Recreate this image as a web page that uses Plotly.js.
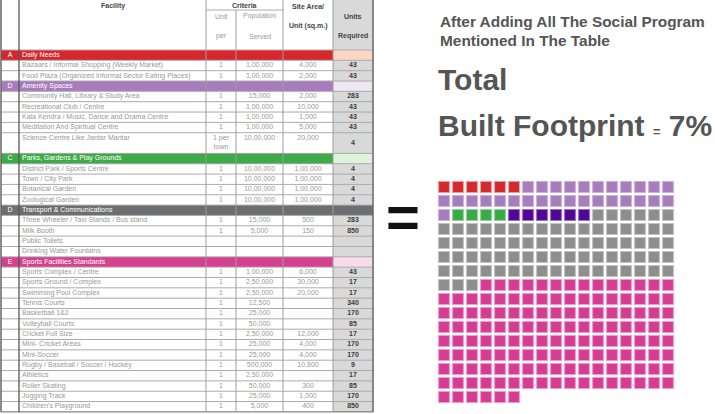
<!DOCTYPE html>
<html><head><meta charset="utf-8">
<script src="https://cdn.plot.ly/plotly-3.0.1.min.js"></script>
<style>html,body{margin:0;padding:0;background:#fff}#chart{width:715px;height:414px}</style>
</head><body><div id="chart"></div>
<script>
// ---------- DATA ----------
const rowLetter = ["A","","","D","","","","","","C","","","","","D","","","","","E","","","","","","","","","","","","","",""];
const rowSection = [0,-1,-1,1,-1,-1,-1,-1,-1,2,-1,-1,-1,-1,3,-1,-1,-1,-1,4,-1,-1,-1,-1,-1,-1,-1,-1,-1,-1,-1,-1,-1,-1];
const rowFacility = [
 "Daily Needs",
 "Bazaars / Informal Shopping (Weekly Market)",
 "Food Plaza (Organized Informal Sector Eating Places)",
 "Amenity Spaces",
 "Community Hall, Library & Study Area",
 "Recreational Club / Centre",
 "Kala Kendra / Music, Dance and Drama Centre",
 "Meditation And Spiritual Centre",
 "Science Centre Like Jantar Mantar",
 "Parks, Gardens & Play Grounds",
 "District Park / Sports Centre",
 "Town / City Park",
 "Botanical Garden",
 "Zoological Garden",
 "Transport & Communications",
 "Three Wheeler / Taxi Stands / Bus stand",
 "Milk Booth",
 "Public Toilets",
 "Drinking Water Fountains",
 "Sports Facilities Standards",
 "Sports Complex / Centre",
 "Sports Ground / Complex",
 "Swimming Pool Complex",
 "Tennis Courts",
 "Basketball 1&2",
 "Volleyball Courts",
 "Cricket Full Size",
 "Mini- Cricket Areas",
 "Mini-Soccer",
 "Rugby / Baseball / Soccer / Hockey",
 "Athletics",
 "Roller Skating",
 "Jogging Track",
 "Children's Playground"
];
const rowUnit = ["","1","1","","1","1","1","1","1 per<br>town","","1","1","1","1","","1","1","","","","1","1","1","1","1","1","1","1","1","1","1","1","1","1"];
const rowPopulation = ["","1,00,000","1,00,000","","15,000","1,00,000","1,00,000","1,00,000","10,00,000","","10,00,000","10,00,000","10,00,000","10,00,000","","15,000","5,000","","","","1,00,000","2,50,000","2,50,000","12,500","25,000","50,000","2,50,000","25,000","25,000","500,000","2,50,000","50,000","25,000","5,000"];
const rowSiteArea = ["","4,000","2,000","","2,000","10,000","1,000","5,000","20,000","","1,00,000","1,00,000","1,00,000","1,00,000","","500","150","","","","6,000","30,000","20,000","","","","12,000","4,000","4,000","10,800","","300","1,000","400"];
const rowUnitsRequired = ["","43","43","","283","43","43","43","4","","4","4","4","4","","283","850","","","","43","17","17","340","170","85","17","170","170","9","17","85","170","850"];
const rowSpan = [1,1,1,1,1,1,1,1,2,1,1,1,1,1,1,1,1,1,1,1,1,1,1,1,1,1,1,1,1,1,1,1,1,1];

const waffleGroups = ["Daily Needs","Amenity Spaces","Parks, Gardens & Play Grounds","Other Social Facilities","Transport & Communications","Sports Facilities"];
const waffleCounts = [6, 29, 4, 6, 77, 139];

// ---------- STYLE ----------
const FONT = "Liberation Sans, Arial, sans-serif";
const colEdges = [1, 19, 206, 236, 283, 333, 373];
const headerH = 50, topLineY = 10;
const rowH = 10.34;
const palette = ['#ffffff','#d9d9d9','#d7262c','#fbd6c3','#a77bbd','#eee6f3','#3eab49','#e0f1dc','#6d6e71','#6d6e71','#d6408f','#f9dcea'];
const sectionFill = [2,4,6,8,10];
const waffleFill = ['#d42a2e','#a77dbd','#3aaa47','#520498','#8e8e8e','#d63c93'];
const waffleLine = ['#ec9a9c','#cdb3dc','#92d29c','#9a72c6','#c4c4c4','#f09ccb'];

// ---------- TABLE GEOMETRY ----------
const yEdges = [0, headerH];
rowSpan.forEach(s => yEdges.push(yEdges[yEdges.length-1] + s*rowH));
const nRows = rowFacility.length;
const z = [];
z.push([0,0,0,0,0,1].map(v => v + 0.5));
for (let r = 0; r < nRows; r++) {
  const s = rowSection[r];
  if (s >= 0) z.push([sectionFill[s],sectionFill[s],sectionFill[s],sectionFill[s],sectionFill[s],sectionFill[s]+1].map(v=>v+0.5));
  else z.push([0,0,0,0,0,1].map(v=>v+0.5));
}
const nc = palette.length;
const cs = [];
palette.forEach((c,k)=>{ cs.push([k/nc,c]); cs.push([(k+1)/nc,c]); });

const colCenter = i => (colEdges[i]+colEdges[i+1])/2;
const rowMid = r => (yEdges[r+1]+yEdges[r+2])/2;
const firstLine = r => yEdges[r+1] + rowH/2;

const traces = [];
traces.push({type:'heatmap', x: colEdges, y: yEdges, z: z, colorscale: cs, zmin:0, zmax:nc,
  showscale:false, hoverinfo:'skip', xaxis:'x', yaxis:'y'});

const idx = rowFacility.map((_,i)=>i);
const grayTxt = '#999999';
const txtColor = idx.map(r => rowSection[r] >= 0 ? '#ffffff' : grayTxt);
// letters
traces.push({type:'scatter', mode:'text', x: idx.map(()=>colCenter(0)), y: idx.map(rowMid), text: rowLetter,
  textposition:'middle center', textfont:{family:FONT, size:7, color:'#ffffff'}, hoverinfo:'skip', showlegend:false});
// facility
traces.push({type:'scatter', mode:'text', x: idx.map(()=>colEdges[1]+3), y: idx.map(r => rowSpan[r]>1 ? firstLine(r) : rowMid(r)), text: rowFacility,
  textposition:'middle right', textfont:{family:FONT, size:7, color:txtColor}, hoverinfo:'skip', showlegend:false});
// unit / population / site
[[rowUnit,2],[rowPopulation,3],[rowSiteArea,4]].forEach(([arr,c])=>{
  traces.push({type:'scatter', mode:'text', x: idx.map(()=>colCenter(c)),
    y: idx.map(r => (rowSpan[r]>1 && c!==2) ? firstLine(r) : rowMid(r)), text: arr,
    textposition:'middle center', textfont:{family:FONT, size:7, color:grayTxt}, hoverinfo:'skip', showlegend:false});
});
traces.push({type:'scatter', mode:'text', x: idx.map(()=>colCenter(5)), y: idx.map(rowMid), text: rowUnitsRequired,
  textposition:'middle center', textfont:{family:FONT, size:7, color:'#3c3c3c', weight:'bold'}, hoverinfo:'skip', showlegend:false});

// waffle
let run = 0;
waffleCounts.forEach((n,g)=>{
  const xs=[], ys=[];
  for (let k=0;k<n;k++){ xs.push(run%17); ys.push(Math.floor(run/17)); run++; }
  traces.push({type:'scatter', mode:'markers', name: waffleGroups[g], x: xs, y: ys, xaxis:'x2', yaxis:'y2',
    marker:{symbol:'square', size:11, color: waffleFill[g], line:{color: waffleLine[g], width:1.2}},
    hoverinfo:'name', showlegend:false});
});

// grid shapes
const shapes = [];
const bottom = yEdges[yEdges.length-1];
for (let i = 1; i < yEdges.length; i++) {
  shapes.push({type:'line', x0: colEdges[0], x1: colEdges[6], y0: yEdges[i], y1: yEdges[i],
    line:{color: i===yEdges.length-1 ? '#666' : '#ababab', width:1}});
}
shapes.push({type:'line', x0: colEdges[2], x1: colEdges[4], y0: topLineY, y1: topLineY, line:{color:'#ababab', width:1}});
colEdges.forEach((x,i)=>{
  const y0 = i===3 ? topLineY : 0;
  const outer = (i===0 || i===6);
  shapes.push({type:'line', x0:x, x1:x, y0:y0, y1:bottom,
    line:{color: outer ? '#666' : (i===1 ? '#555' : '#9d9d9d'), width: outer ? 1.5 : (i===1 ? 1.3 : 1)}});
});
shapes.forEach(s=>{ s.xref='x'; s.yref='y'; s.layer='above'; });

// header + right texts
const hb = (text,x,y,opt={}) => Object.assign({text, x, y, xref:'x', yref:'y', showarrow:false,
  xanchor:'center', yanchor:'middle', font:{family:FONT, size:7, color:'#444', weight:'bold'}}, opt);
const hn = (text,x,y) => hb(text,x,y,{font:{family:FONT,size:7,color:grayTxt}});
const annotations = [
  hb('Facility', colCenter(1), 6),
  hb('Criteria', (colEdges[2]+colEdges[4])/2, 5.5),
  hn('Unit', colCenter(2), 16), hn('per', colCenter(2), 36),
  hn('Population', colCenter(3), 16), hn('Served', colCenter(3), 36),
  hb('Site Area/', colCenter(4), 6), hb('Unit (sq.m.)', colCenter(4), 26),
  hb('Units', colCenter(5), 16), hb('Required', colCenter(5), 36),
  {text:'=', x:403, y:216, xref:'x', yref:'y', showarrow:false, xanchor:'center', yanchor:'middle',
    font:{family:FONT, size:58, color:'#111', weight:'bold'}},
  {text:'After Adding All The Social Program', x:438, y:21, xref:'x', yref:'y', showarrow:false, xanchor:'left', yanchor:'middle',
    font:{family:FONT, size:15.4, color:'#555', weight:'bold'}},
  {text:'Mentioned In The Table', x:438, y:40, xref:'x', yref:'y', showarrow:false, xanchor:'left', yanchor:'middle',
    font:{family:FONT, size:15.4, color:'#555', weight:'bold'}},
  {text:'Total', x:436, y:79, xref:'x', yref:'y', showarrow:false, xanchor:'left', yanchor:'middle',
    font:{family:FONT, size:30, color:'#555', weight:'bold'}},
  {text:"Built Footprint <span style='font-size:13px'>=</span> 7%", x:436, y:125, xref:'x', yref:'y', showarrow:false, xanchor:'left', yanchor:'middle',
    font:{family:FONT, size:30, color:'#555', weight:'bold'}}
];

const layout = {
  width:715, height:414, margin:{l:0,r:0,t:0,b:0}, paper_bgcolor:'#fff', plot_bgcolor:'rgba(0,0,0,0)',
  showlegend:false,
  xaxis:{domain:[0,1], range:[0,715], visible:false, fixedrange:true},
  yaxis:{domain:[0,1], range:[414,0], visible:false, fixedrange:true},
  xaxis2:{domain:[437/715, 675/715], range:[-0.5,16.5], visible:false, anchor:'y2', fixedrange:true},
  yaxis2:{domain:[1-404/414, 1-180/414], range:[15.5,-0.5], visible:false, anchor:'x2', fixedrange:true},
  shapes, annotations
};
Plotly.newPlot('chart', traces, layout, {displayModeBar:false, staticPlot:true});
</script></body></html>
